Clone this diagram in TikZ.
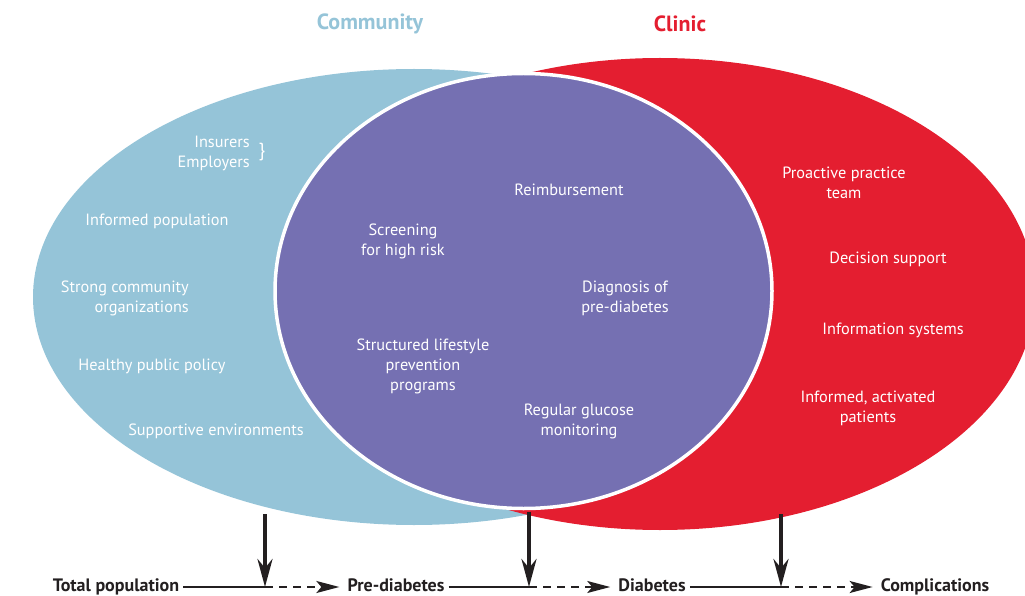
\documentclass[tikz,border=0pt]{standalone}
\usepackage{fontspec}
\setmainfont{PT Sans}
\usetikzlibrary{positioning}
\usetikzlibrary{arrows.meta}
\definecolor{communityColor}{RGB}{149,196,216}
\definecolor{clinicColor}{RGB}{228,30,48}
\definecolor{overlapColor}{RGB}{117,112,178}
\definecolor{flowColor}{RGB}{35,31,32}

\begin{document}
\begin{tikzpicture}[x=1pt,y=-1pt]

          \tikzstyle{areaText} = [text=white,font=\fontsize{16.3}{20}\selectfont,align=center,inner sep=0pt];
          \tikzstyle{titleText} = [font=\bfseries\fontsize{22}{24}\selectfont,inner sep=0pt];
          \tikzstyle{stageText} = [text=flowColor,font=\bfseries\fontsize{18}{20}\selectfont,inner sep=4pt,text height=12pt,text depth=4pt];
          \tikzstyle{flowEdge} = [flowColor,line width=1.8pt];
          \tikzstyle{flowDashed} = [flowEdge,dash pattern=on 8pt off 6pt,shorten >=4pt,-{Stealth[length=23pt,width=12pt,inset=5pt]}];
          \tikzstyle{dropEdge} = [flowColor,line width=4pt,-{Stealth[length=28pt,width=15pt]}];

          \clip (0,0) rectangle (1025,596);
          \useasboundingbox (0,0) rectangle (1025,596);

          \fill[communityColor] (414,297) ellipse [x radius=381,y radius=228];
          \fill[clinicColor] (660,294) ellipse [x radius=375,y radius=236];
          \filldraw[fill=overlapColor,draw=white,line width=3.5pt] (523.5,291) ellipse [x radius=248.5,y radius=217.5];

          \node[titleText,communityColor] (community) at (370,24) {Community};
          \node[titleText,clinicColor] (clinic) at (680,24) {Clinic};

          \node[areaText,align=right,anchor=east] (insurers) at (250,153) {Insurers\\Employers};
          \node[areaText,font=\fontsize{19}{20}\selectfont] (brace) at (262,152) {\}};
          \node[areaText] (informed) at (157,221) {Informed population};
          \node[areaText,align=right,anchor=east] (strong) at (189,298) {Strong community\\organizations};
          \node[areaText] (policy) at (152,366) {Healthy public policy};
          \node[areaText] (supportive) at (216,431) {Supportive environments};

          \node[areaText] (screening) at (403,241) {Screening\\for high risk};
          \node[areaText] (reimb) at (569,190) {Reimbursement};
          \node[areaText] (diagnosis) at (625,298) {Diagnosis of\\pre-diabetes};
          \node[areaText] (lifestyle) at (423,366) {Structured lifestyle\\prevention\\programs};
          \node[areaText] (glucose) at (579,421) {Regular glucose\\monitoring};

          \node[areaText] (proactive) at (844,183) {Proactive practice\\team};
          \node[areaText] (decision) at (888,259) {Decision support};
          \node[areaText] (infosys) at (893,330) {Information systems};
          \node[areaText] (activated) at (868,408) {Informed, activated\\patients};

          \node[stageText] (total) at (116,587) {Total population};
          \node[stageText] (pre) at (396,587) {Pre-diabetes};
          \node[stageText] (diab) at (652,587) {Diabetes};
          \node[stageText] (compl) at (935,587) {Complications};

          \coordinate (drop1top) at (265,514);
          \coordinate (drop1) at (265,587);
          \coordinate (drop2top) at (529,512);
          \coordinate (drop2) at (529,587);
          \coordinate (drop3top) at (781,514);
          \coordinate (drop3) at (781,587);

          \draw[flowEdge] (total) -- (drop1);
          \draw[flowDashed] (drop1) -- (pre);
          \draw[flowEdge] (pre) -- (drop2);
          \draw[flowDashed] (drop2) -- (diab);
          \draw[flowEdge] (diab) -- (drop3);
          \draw[flowDashed] (drop3) -- (compl);

          \draw[dropEdge] (drop1top) -- (drop1);
          \draw[dropEdge] (drop2top) -- (drop2);
          \draw[dropEdge] (drop3top) -- (drop3);
        \end{tikzpicture}
\end{document}
